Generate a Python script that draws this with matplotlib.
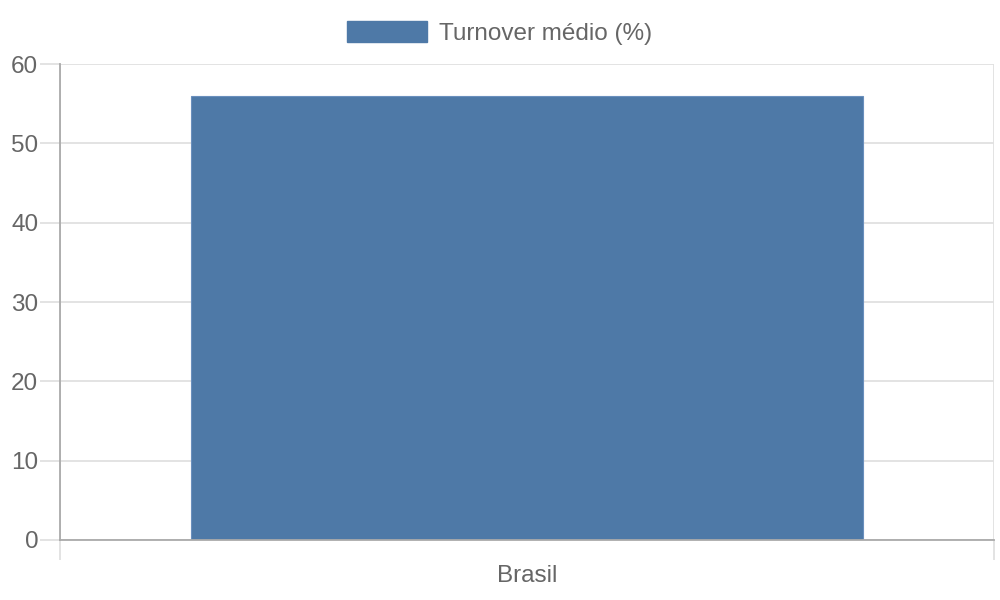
import matplotlib
matplotlib.use("Agg")
import matplotlib.pyplot as plt
from matplotlib.patches import Patch

# data
categories = ["Brasil"]
turnover = [56]
series_label = "Turnover médio (%)"
y_ticks = [0, 10, 20, 30, 40, 50, 60]

bar_color = "#4e79a7"
text_color = "#666666"
grid_color = "#e1e1e1"
axis_color = "#aaaaaa"

plt.rcParams["font.family"] = ["Liberation Sans", "DejaVu Sans"]

fig = plt.figure(figsize=(10, 6), dpi=100)
ax = fig.add_axes([0.06, 0.10, 0.934, 0.7933])

x = list(range(len(categories)))
ax.bar(x, turnover, width=0.72, color=bar_color, edgecolor="#6a8fbd", linewidth=0.8, zorder=3)

ax.set_xlim(-0.5, len(categories) - 0.5)
ax.set_ylim(0, 60)
ax.set_yticks(y_ticks)
ax.set_xticks(x)
ax.set_xticklabels(categories)
ax.set_xticks([i - 0.5 for i in range(len(categories) + 1)], minor=True)

ax.grid(axis="y", color=grid_color, linewidth=1.3, zorder=0)
ax.grid(axis="x", which="minor", color=grid_color, linewidth=1.3, zorder=0)

ax.tick_params(axis="y", length=14.4, width=1.3, color=grid_color, labelcolor=text_color,
               labelsize=17.5, pad=1.2)
ax.tick_params(axis="x", which="major", length=0, labelcolor=text_color, labelsize=17.5, pad=18)
ax.tick_params(axis="x", which="minor", length=14.4, width=1.3, color=grid_color)

for side in ["top", "right"]:
    ax.spines[side].set_visible(False)
ax.spines["left"].set_color(axis_color)
ax.spines["bottom"].set_color(axis_color)
ax.spines["left"].set_linewidth(1.3)
ax.spines["bottom"].set_linewidth(1.3)
ax.spines["left"].set_zorder(4)
ax.spines["bottom"].set_zorder(4)

fig.legend(handles=[Patch(color=bar_color, label=series_label)],
           loc="upper center", bbox_to_anchor=(0.5, 0.982), frameon=False,
           fontsize=17.5, labelcolor=text_color, handlelength=3.29, handleheight=1.0,
           handletextpad=0.5, borderaxespad=0)

fig.savefig("out.png", dpi=100)
